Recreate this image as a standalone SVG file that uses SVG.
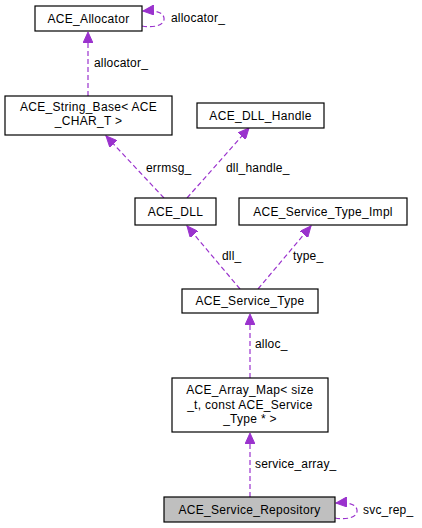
<svg xmlns="http://www.w3.org/2000/svg" width="422" height="528" viewBox="0 0 422 528">
<defs>
<marker id="arr" markerUnits="userSpaceOnUse" markerWidth="12" markerHeight="10" refX="11" refY="5" orient="auto">
<path d="M0,0 L11,5 L0,10 Z" fill="#9a32cd" stroke="#9a32cd" stroke-width="1"/>
</marker>
<style>
.node rect{fill:#ffffff;stroke:#000000;stroke-width:1.2}
.node text{font-family:"Liberation Sans",Arial,sans-serif;font-size:12px;letter-spacing:0.3px;text-anchor:middle;fill:#000}
.edge path{fill:none;stroke:#9a32cd;stroke-width:1.2;stroke-dasharray:5,3;marker-end:url(#arr)}
.edge text{font-family:"Liberation Sans",Arial,sans-serif;font-size:12px;letter-spacing:0.2px;fill:#000}
</style>
</defs>
<rect width="422" height="528" fill="#ffffff"/>
<g id="connectors">
<g class="edge"><path d="M142,26 C152,28 165,26 164,18 C163,12 155,10 143,11"/><text x="171" y="22">allocator_</text></g>
<g class="edge"><path d="M88,96 L88,32"/><text x="94" y="67">allocator_</text></g>
<g class="edge"><path d="M164,198 L106,136"/><text x="146" y="172">errmsg_</text></g>
<g class="edge"><path d="M187,198 L249,128"/><text x="226" y="172">dll_handle_</text></g>
<g class="edge"><path d="M240,289 L187,226"/><text x="222" y="260">dll_</text></g>
<g class="edge"><path d="M258,289 L311,226"/><text x="293" y="260">type_</text></g>
<g class="edge"><path d="M250,378 L250,314"/><text x="255" y="348">alloc_</text></g>
<g class="edge"><path d="M250,497 L250,433"/><text x="255" y="468">service_array_</text></g>
<g class="edge"><path d="M335,518 C345,520 358,518 357,510 C356,504 348,502 336,503"/><text x="363" y="514">svc_rep_</text></g>
</g>
<g id="ACE_Allocator" class="node"><rect x="35" y="6" width="107" height="25"/><text x="88.5" y="22.5">ACE_Allocator</text></g>
<g id="ACE_String_Base" class="node"><rect x="5" y="96" width="167" height="39"/><text x="88.5" y="111">ACE_String_Base&lt; ACE</text><text x="88.5" y="125">_CHAR_T &gt;</text></g>
<g id="ACE_DLL_Handle" class="node"><rect x="197" y="103" width="127" height="25"/><text x="260.5" y="119.5">ACE_DLL_Handle</text></g>
<g id="ACE_DLL" class="node"><rect x="135" y="198" width="81" height="27"/><text x="175.5" y="216">ACE_DLL</text></g>
<g id="ACE_Service_Type_Impl" class="node"><rect x="239" y="198" width="168" height="27"/><text x="323" y="216">ACE_Service_Type_Impl</text></g>
<g id="ACE_Service_Type" class="node"><rect x="182" y="289" width="136" height="24"/><text x="250" y="305">ACE_Service_Type</text></g>
<g id="ACE_Array_Map" class="node"><rect x="172" y="378" width="156" height="54"/><text x="250" y="394">ACE_Array_Map&lt; size</text><text x="250" y="408.5">_t, const ACE_Service</text><text x="250" y="423">_Type * &gt;</text></g>
<g id="ACE_Service_Repository" class="node"><rect x="164" y="497" width="171" height="25" style="fill:#bfbfbf"/><text x="249.5" y="514">ACE_Service_Repository</text></g>
</svg>
